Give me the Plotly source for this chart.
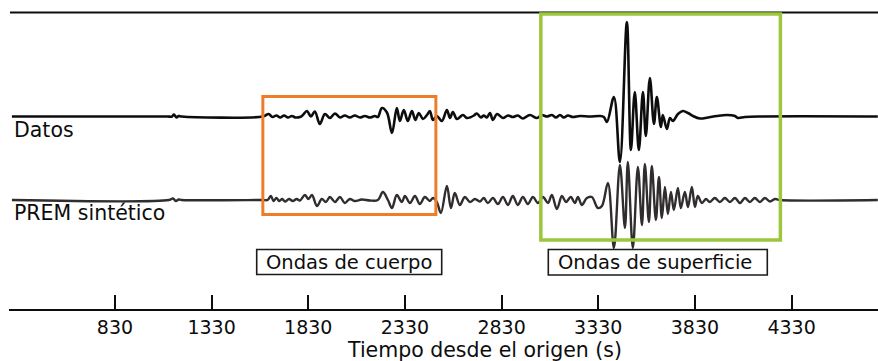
import plotly.graph_objects as go

# Seismogram samples: time since origin (s) and relative amplitude (arbitrary units)
datos_t = [297, 1100, 1125, 1135, 1148, 1160, 1175, 1595, 1625, 1645, 1665, 1685, 1705,
           1725, 1745, 1765, 1787, 1802, 1823, 1844, 1864, 1890, 1916, 1942, 1968, 1994,
           2019, 2045, 2071, 2097, 2123, 2149, 2175, 2190, 2211, 2237, 2263, 2288, 2304,
           2324, 2345, 2366, 2384, 2402, 2423, 2444, 2459, 2475, 2495, 2521, 2547, 2563,
           2578, 2599, 2630, 2650, 2666, 2687, 2702, 2723, 2738, 2754, 2770, 2785, 2806,
           2837, 2863, 2888, 2914, 2940, 2976, 3013, 3038, 3064, 3090, 3111, 3132, 3152,
           3173, 3199, 3235, 3287, 3338, 3359, 3375, 3411, 3442, 3478, 3499, 3519, 3540,
           3561, 3576, 3597, 3618, 3633, 3654, 3664, 3685, 3701, 3716, 3742, 3768, 3794,
           3820, 3856, 3897, 3944, 3995, 4037, 4052, 4089, 4166, 4776]
datos_a = [0, 0, 0, 2, -1, 0.5, 0, 0, 2.5, -0.5, 1, -1, 1,
           -1, 0.5, -1, -0.5, 1.5, 5.5, 0, 5, -7.5, 2.5, -1.5, 3, -1,
           1, -1, 1, -1, 0.5, -1, 0.5, -0.5, 8.5, 4, -16.5, 8.5, -4.5,
           6.5, -4.5, 5.5, -3.5, 3.5, -2.5, 1.5, 5.5, -3.5, 0.5, -4.5, 6.5, -1.5,
           4.5, -2.5, 1.5, -1.5, -1, 1, 3, -1, 1, -1, 3.5, -3.5, 2.5,
           -1.5, 1, -0.5, 1, -2, 1.5, -1.5, 1.5, 0, 1.5, -1, 1.5, -1,
           1, -0.5, 0.5, 0, 0.5, -0.5, -5.5, 19.5, -45.5, 94.5, -33.5, 24.5, -33.5,
           24.5, -19.5, 38.5, -7.5, 19.5, -10.5, 1.5, -12.5, -1.5, -4.5, 2.5, 5.5, 3.5,
           0.5, -2, -1, 0.5, 1.5, 0.5, -1.5, -0.5, 0, 0]

prem_t = [297, 1110, 1130, 1145, 1160, 1175, 1595, 1620, 1637, 1650, 1665, 1680, 1695,
          1710, 1730, 1750, 1770, 1787, 1813, 1831, 1849, 1875, 1900, 1921, 1942, 1968,
          1994, 2019, 2045, 2071, 2107, 2149, 2190, 2216, 2242, 2263, 2288, 2314, 2330,
          2356, 2382, 2407, 2433, 2459, 2475, 2495, 2516, 2547, 2568, 2588, 2614, 2640,
          2666, 2692, 2718, 2738, 2759, 2785, 2811, 2837, 2863, 2888, 2914, 2940, 2966,
          2992, 3018, 3044, 3070, 3090, 3116, 3142, 3163, 3188, 3209, 3225, 3245, 3271,
          3297, 3328, 3349, 3380, 3411, 3442, 3468, 3483, 3509, 3535, 3556, 3571, 3592,
          3607, 3628, 3644, 3659, 3675, 3690, 3706, 3721, 3742, 3757, 3778, 3794, 3814,
          3830, 3845, 3866, 3887, 3907, 3933, 3959, 3985, 4011, 4037, 4063, 4089, 4114,
          4140, 4166, 4192, 4218, 4244, 4270, 4776]
prem_a = [0, 0, 1.5, -1, 0.5, 0, 0, 0, 4, -1, 2, -1, 1,
          -1.5, 1, -1, 1, -0.5, 5, 1, 5, -6, 1, -2, 3, -2,
          3, -3, 1, -1, 0.5, -0.5, 0, 8, 0, -8, 5, -2, 4,
          -3, 4, -4, 3, -1, 2, -2, -13, 14, -8, 7, -5, 3,
          -2, 1, -1.5, 2, -3, 2, -4, 3, -5, 4, -5, 3, -4,
          3, -3, 3, -3, 5, -9, 4, -2, 3, -3, 3, -5, 2,
          3, -8, -6, 17, -48, 35, -28, 38, -48, 33, -25, 36, -22,
          34, -20, 23, -18, 13, -14, 8, -10, 12, -8, 8, -7, 13,
          -7, 4, -3, 1, -2, 2, -2, 2, -2, 2, -3, 2, -2,
          2, -2, 2, -1.5, 1, 0, 0]

tick_vals = [830, 1330, 1830, 2330, 2830, 3330, 3830, 4330]
trace_names = ["Datos", "PREM sintético"]
window_labels = ["Ondas de cuerpo", "Ondas de superficie"]
body_window = [1595, 2490]
surface_window = [3033, 4272]

W, H = 878, 361
ML, MB = 9, 52
PH = H - MB            # plot height in px; y data runs 0..PH
X0, X1 = 282, 4777     # time range across the plot width
FONT = "DejaVu Sans"
INK = "#0d0d0d"

def py(v):
    """pixel row (from top) -> y data value"""
    return PH - v

def pxp(v):
    """pixel column -> paper x"""
    return (v - ML) / (W - ML)

DATOS_BASE = py(116.5)
PREM_BASE = py(200)

fig = go.Figure()
fig.add_trace(go.Scatter(
    x=datos_t, y=[DATOS_BASE + a for a in datos_a], mode="lines",
    line=dict(color="#0d0d0d", width=2.6, shape="spline", smoothing=1.0),
    hoverinfo="skip", showlegend=False))
fig.add_trace(go.Scatter(
    x=prem_t, y=[PREM_BASE + a for a in prem_a], mode="lines",
    line=dict(color="#312d2e", width=2.4, shape="spline", smoothing=1.0),
    hoverinfo="skip", showlegend=False))

shapes = [
    # top rule
    dict(type="line", xref="paper", yref="y", x0=pxp(10), x1=1, y0=py(12.5), y1=py(12.5),
         line=dict(color=INK, width=1.8)),
    # body-wave window
    dict(type="rect", xref="x", yref="y", x0=body_window[0], x1=body_window[1],
         y0=py(214.5), y1=py(96.5), line=dict(color="#EE7D2A", width=3)),
    # surface-wave window
    dict(type="rect", xref="x", yref="y", x0=surface_window[0], x1=surface_window[1],
         y0=py(240), y1=py(14), line=dict(color="#9CC63C", width=3.5)),
    # label frames
    dict(type="rect", xref="paper", yref="y", x0=pxp(256.7), x1=pxp(441.7),
         y0=py(274.5), y1=py(249.5), line=dict(color="#1a1a1a", width=1.6)),
    dict(type="rect", xref="paper", yref="y", x0=pxp(548.3), x1=pxp(767.3),
         y0=py(275), y1=py(249.5), line=dict(color="#1a1a1a", width=1.6)),
]

annotations = [
    dict(text=trace_names[0], xref="paper", yref="y", x=pxp(12), y=py(130),
         xanchor="left", yanchor="middle", showarrow=False,
         font=dict(family=FONT, size=20.5, color=INK)),
    dict(text=trace_names[1], xref="paper", yref="y", x=pxp(12), y=py(213),
         xanchor="left", yanchor="middle", showarrow=False,
         font=dict(family=FONT, size=20.5, color=INK)),
    dict(text=window_labels[0], xref="paper", yref="y", x=pxp(349), y=py(262.5),
         xanchor="center", yanchor="middle", showarrow=False,
         font=dict(family=FONT, size=19.5, color=INK)),
    dict(text=window_labels[1], xref="paper", yref="y", x=pxp(654.5), y=py(262.5),
         xanchor="center", yanchor="middle", showarrow=False,
         font=dict(family=FONT, size=19.5, color=INK)),
    dict(text="Tiempo desde el origen (s)", xref="paper", yref="paper",
         x=pxp(485), y=(PH - 350) / PH, xanchor="center", yanchor="middle",
         showarrow=False, font=dict(family=FONT, size=20.5, color=INK)),
]

fig.update_layout(
    width=W, height=H,
    margin=dict(l=ML, r=0, t=0, b=MB),
    paper_bgcolor="white", plot_bgcolor="white",
    shapes=shapes, annotations=annotations,
    xaxis=dict(range=[X0, X1], tickvals=tick_vals, ticktext=[str(v) for v in tick_vals],
               ticks="inside", ticklen=14, tickwidth=2, tickcolor=INK,
               showline=True, linecolor=INK, linewidth=2,
               showgrid=False, zeroline=False,
               tickfont=dict(family=FONT, size=19, color=INK)),
    yaxis=dict(range=[0, PH], visible=False, fixedrange=True),
)

fig.write_html("out.html")
